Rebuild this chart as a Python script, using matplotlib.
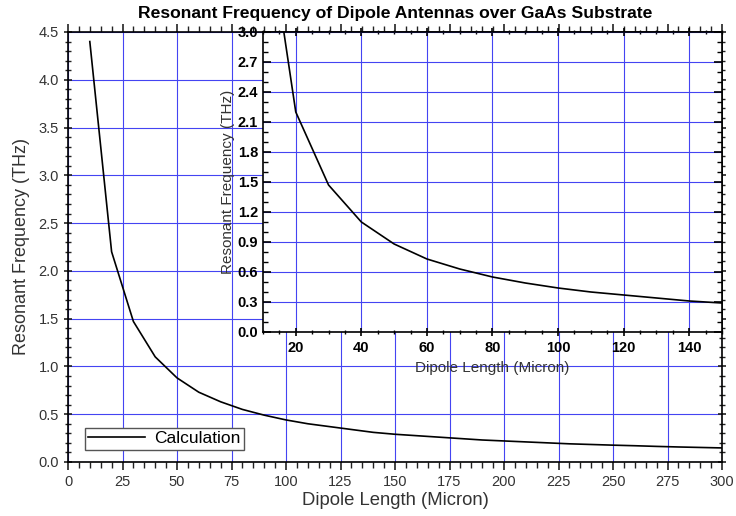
import matplotlib
matplotlib.use("Agg")
import matplotlib.pyplot as plt
import matplotlib.ticker as ticker

# dipole length (micron) and resonant frequency (THz)
LENGTH = [10, 20, 30, 40, 50, 60, 70, 80, 90, 100, 110, 120, 130, 140, 150,
          160, 170, 180, 190, 200, 210, 220, 230, 240, 250, 260, 270, 280, 290, 300]
FREQ = [4.40, 2.20, 1.47, 1.10, 0.88, 0.73, 0.63, 0.55, 0.49, 0.44, 0.40, 0.37, 0.34, 0.31, 0.29,
        0.275, 0.26, 0.245, 0.23, 0.22, 0.21, 0.20, 0.19, 0.183, 0.176, 0.17, 0.163, 0.157, 0.152, 0.147]

TITLE = "Resonant Frequency of Dipole Antennas over GaAs Substrate"
XLAB = "Dipole Length (Micron)"
YLAB = "Resonant Frequency (THz)"
GRID = "#4444f2"

plt.rcParams.update({"font.family": ["Liberation Sans", "DejaVu Sans"], "axes.linewidth": 1.2})

fig = plt.figure(figsize=(7.36, 5.16), dpi=100)

# ---- main axes ----
ax = fig.add_axes([0.0924, 0.1047, 0.8886, 0.8333])
ax.plot(LENGTH, FREQ, color="black", lw=1.2, label="Calculation")
ax.set_xlim(0, 300); ax.set_ylim(0, 4.5)
ax.xaxis.set_major_locator(ticker.MultipleLocator(25))
ax.xaxis.set_minor_locator(ticker.MultipleLocator(5))
ax.yaxis.set_major_locator(ticker.MultipleLocator(0.5))
ax.yaxis.set_minor_locator(ticker.MultipleLocator(0.1))
ax.yaxis.set_major_formatter(ticker.FormatStrFormatter("%.1f"))
ax.tick_params(which="both", top=True, right=True, labelsize=10.5, colors="#222222", labelcolor="#333333")
ax.tick_params(which="major", length=6, width=1.2, direction="inout")
ax.tick_params(which="minor", length=4, width=1.0, direction="inout")
ax.tick_params(axis="x", which="both", direction="out")
ax.grid(which="major", color=GRID, lw=0.8)
ax.set_xlabel(XLAB, fontsize=13.3, color="#333333", labelpad=2)
ax.set_ylabel(YLAB, fontsize=13, color="#333333", labelpad=6)
ax.set_title(TITLE, fontsize=12.6, fontweight="bold", pad=10)
leg = ax.legend(loc="lower left", bbox_to_anchor=(0.012, 0.008), fontsize=12.5, fancybox=False,
                edgecolor="#555555", framealpha=1, handlelength=3.3, borderpad=0.2, handletextpad=0.5)
leg.get_frame().set_linewidth(1.0)

# ---- inset ----
ins = fig.add_axes([0.3573, 0.3566, 0.6237, 0.5814])
ins.set_facecolor("white")
ins.plot(LENGTH, FREQ, color="black", lw=1.2)
ins.set_xlim(10, 150); ins.set_ylim(0, 3.0)
ins.xaxis.set_major_locator(ticker.MultipleLocator(20))
ins.xaxis.set_minor_locator(ticker.MultipleLocator(5))
ins.yaxis.set_major_locator(ticker.MultipleLocator(0.3))
ins.yaxis.set_minor_locator(ticker.MultipleLocator(0.1))
ins.yaxis.set_major_formatter(ticker.FormatStrFormatter("%.1f"))
ins.tick_params(which="both", top=True, right=True, direction="in", labelsize=10.5)
ins.tick_params(which="major", length=6, width=1.2)
ins.tick_params(which="minor", length=3.5, width=1.0)
ins.tick_params(axis="x", which="both", direction="inout")
for lab in ins.get_xticklabels() + ins.get_yticklabels():
    lab.set_fontweight("bold")
ins.grid(which="major", color=GRID, lw=0.8)
ins.set_xlabel(XLAB, fontsize=11, color="#333333", labelpad=4)
ins.set_ylabel(YLAB, fontsize=11, color="#333333", labelpad=2)

fig.savefig("out.png", dpi=100)
